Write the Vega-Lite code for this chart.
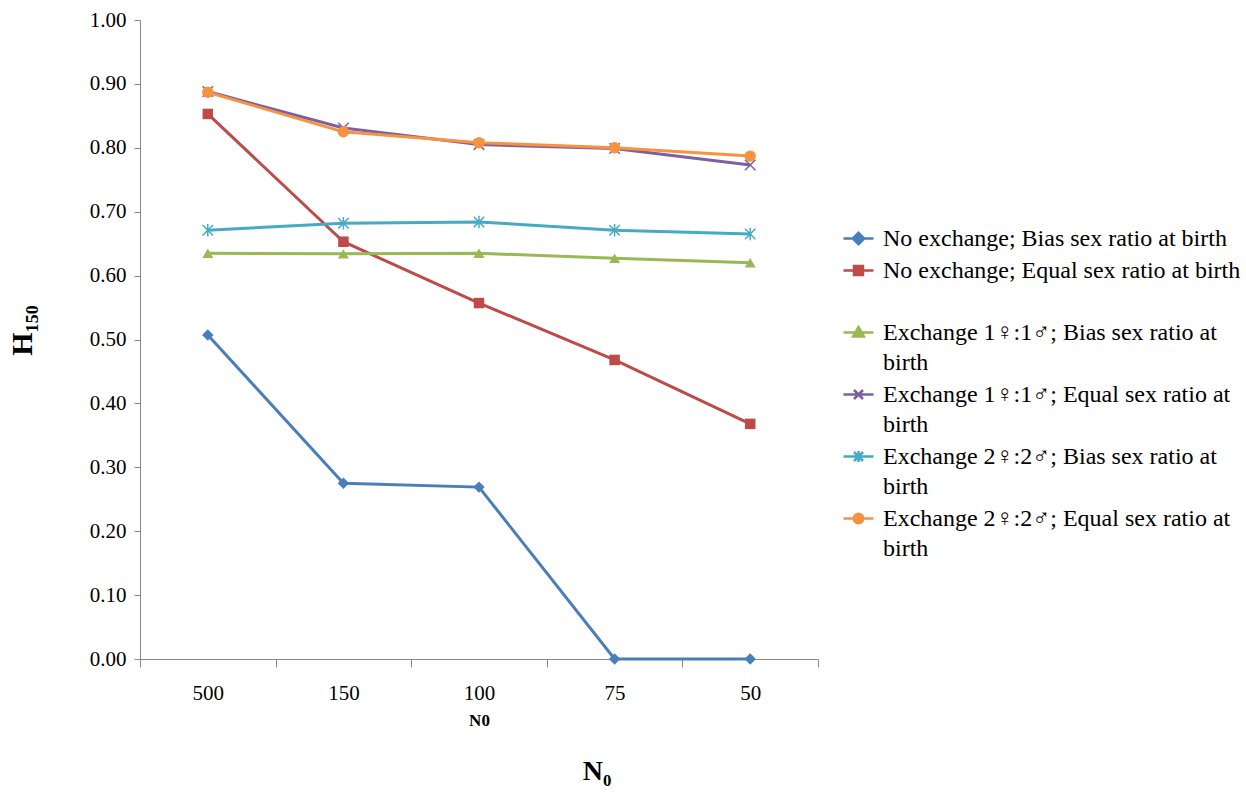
{
  "$schema": "https://vega.github.io/schema/vega-lite/v6.json",
  "width": 678,
  "height": 639,
  "autosize": "none",
  "padding": {"left": 140, "top": 20, "right": 428, "bottom": 137},
  "background": "white",
  "config": {"view": {"stroke": null}, "font": "Liberation Serif"},
  "title": {"text": "N₀", "orient": "bottom", "anchor": "middle", "frame": "group", "fontSize": 28, "fontWeight": "bold", "font": "Liberation Serif", "color": "black", "offset": 30, "dx": 118},
  "data": {"values": [
    {"N0": "500", "series": "No exchange; Bias sex ratio at birth", "H": 0.507},
    {"N0": "150", "series": "No exchange; Bias sex ratio at birth", "H": 0.275},
    {"N0": "100", "series": "No exchange; Bias sex ratio at birth", "H": 0.269},
    {"N0": "75", "series": "No exchange; Bias sex ratio at birth", "H": 0.0},
    {"N0": "50", "series": "No exchange; Bias sex ratio at birth", "H": 0.0},
    {"N0": "500", "series": "No exchange; Equal sex ratio at birth", "H": 0.853},
    {"N0": "150", "series": "No exchange; Equal sex ratio at birth", "H": 0.653},
    {"N0": "100", "series": "No exchange; Equal sex ratio at birth", "H": 0.557},
    {"N0": "75", "series": "No exchange; Equal sex ratio at birth", "H": 0.468},
    {"N0": "50", "series": "No exchange; Equal sex ratio at birth", "H": 0.368},
    {"N0": "500", "series": "Exchange 1♀:1♂; Bias sex ratio at birth", "H": 0.635},
    {"N0": "150", "series": "Exchange 1♀:1♂; Bias sex ratio at birth", "H": 0.634},
    {"N0": "100", "series": "Exchange 1♀:1♂; Bias sex ratio at birth", "H": 0.635},
    {"N0": "75", "series": "Exchange 1♀:1♂; Bias sex ratio at birth", "H": 0.627},
    {"N0": "50", "series": "Exchange 1♀:1♂; Bias sex ratio at birth", "H": 0.620},
    {"N0": "500", "series": "Exchange 1♀:1♂; Equal sex ratio at birth", "H": 0.888},
    {"N0": "150", "series": "Exchange 1♀:1♂; Equal sex ratio at birth", "H": 0.831},
    {"N0": "100", "series": "Exchange 1♀:1♂; Equal sex ratio at birth", "H": 0.805},
    {"N0": "75", "series": "Exchange 1♀:1♂; Equal sex ratio at birth", "H": 0.799},
    {"N0": "50", "series": "Exchange 1♀:1♂; Equal sex ratio at birth", "H": 0.773},
    {"N0": "500", "series": "Exchange 2♀:2♂; Bias sex ratio at birth", "H": 0.671},
    {"N0": "150", "series": "Exchange 2♀:2♂; Bias sex ratio at birth", "H": 0.682},
    {"N0": "100", "series": "Exchange 2♀:2♂; Bias sex ratio at birth", "H": 0.684},
    {"N0": "75", "series": "Exchange 2♀:2♂; Bias sex ratio at birth", "H": 0.671},
    {"N0": "50", "series": "Exchange 2♀:2♂; Bias sex ratio at birth", "H": 0.665},
    {"N0": "500", "series": "Exchange 2♀:2♂; Equal sex ratio at birth", "H": 0.887},
    {"N0": "150", "series": "Exchange 2♀:2♂; Equal sex ratio at birth", "H": 0.825},
    {"N0": "100", "series": "Exchange 2♀:2♂; Equal sex ratio at birth", "H": 0.808},
    {"N0": "75", "series": "Exchange 2♀:2♂; Equal sex ratio at birth", "H": 0.800},
    {"N0": "50", "series": "Exchange 2♀:2♂; Equal sex ratio at birth", "H": 0.787}
  ]},
  "encoding": {
    "x": {
      "field": "N0", "type": "nominal", "sort": ["500", "150", "100", "75", "50"],
      "scale": {"type": "band", "paddingInner": 0, "paddingOuter": 0},
      "axis": {
        "title": "N0", "titleFont": "Liberation Serif", "titleFontSize": 17, "titleFontWeight": "bold", "titleColor": "black", "titleY": 61, "titleBaseline": "middle",
        "labelFont": "Liberation Serif", "labelFontSize": 21, "labelColor": "black", "labelAngle": 0, "labelPadding": 15,
        "tickBand": "extent", "tickSize": 8, "tickColor": "#888888", "domainColor": "#888888", "grid": false
      }
    },
    "y": {
      "field": "H", "type": "quantitative", "scale": {"domain": [0, 1]},
      "axis": {
        "title": "H₁₅₀", "titleFont": "Liberation Serif", "titleFontSize": 30, "titleFontWeight": "bold", "titleColor": "black",
        "titleX": -118, "titleY": 310, "titleAngle": -90, "titleAlign": "center", "titleBaseline": "middle",
        "values": [0, 0.1, 0.2, 0.3, 0.4, 0.5, 0.6, 0.7, 0.8, 0.9, 1.0], "format": ".2f",
        "labelFont": "Liberation Serif", "labelFontSize": 21, "labelColor": "black", "labelPadding": 8,
        "tickSize": 6, "tickColor": "#888888", "domainColor": "#888888", "grid": false
      }
    }
  },
  "layer": [
    {
      "mark": {"type": "line", "strokeWidth": 3},
      "encoding": {
        "color": {"field": "series", "type": "nominal",
          "scale": {"domain": ["No exchange; Bias sex ratio at birth", "No exchange; Equal sex ratio at birth", "Exchange 1♀:1♂; Bias sex ratio at birth", "Exchange 1♀:1♂; Equal sex ratio at birth", "Exchange 2♀:2♂; Bias sex ratio at birth", "Exchange 2♀:2♂; Equal sex ratio at birth"],
                    "range": ["#4A7EBB", "#BE4B48", "#98B954", "#7D60A0", "#46AAC5", "#F69240"]},
          "legend": {
            "title": null, "orient": "none", "legendX": 702, "legendY": 202,
            "symbolSize": 900, "symbolStrokeWidth": 2.5, "labelOffset": 8,
            "labelFontSize": 24, "labelColor": "black", "labelFont": "Liberation Serif", "labelLimit": 500,
            "rowPadding": 3,
            "labelExpr": "indexof(datum.label, 'Exchange') == 0 ? [slice(datum.label, 0, lastindexof(datum.label, ' ')), 'birth'] : (indexof(datum.label, 'Equal') >= 0 ? [datum.label, ''] : datum.label)",
            "encode": {
              "symbols": {"update": {
                "shape": {"signal": "{'No exchange; Bias sex ratio at birth': 'M-1,0L1,0M0,-0.38L0.38,0L0,0.38L-0.38,0Z', 'No exchange; Equal sex ratio at birth': 'M-1,0L1,0M-0.3,-0.3L0.3,-0.3L0.3,0.3L-0.3,0.3Z', 'Exchange 1♀:1♂; Bias sex ratio at birth': 'M-1,0L1,0M0,-0.36L0.36,0.26L-0.36,0.26Z', 'Exchange 1♀:1♂; Equal sex ratio at birth': 'M-1,0L1,0M-0.3,-0.3L0.3,0.3M-0.3,0.3L0.3,-0.3', 'Exchange 2♀:2♂; Bias sex ratio at birth': 'M-1,0L1,0M-0.3,-0.3L0.3,0.3M-0.3,0.3L0.3,-0.3M0,-0.36L0,0.36', 'Exchange 2♀:2♂; Equal sex ratio at birth': 'M-1,0L1,0M-0.32,0A0.32,0.32 0 1,0 0.32,0A0.32,0.32 0 1,0 -0.32,0Z'}[datum.value]"},
                "size": {"value": 900},
                "fill": {"scale": "color", "field": "value"},
                "stroke": {"scale": "color", "field": "value"},
                "strokeWidth": {"value": 2.5},
                "opacity": {"value": 1}
              }},
              "labels": {"update": {"lineHeight": {"value": 30}}}
            }
          }
        }
      }
    },
    {
      "transform": [{"filter": "datum.series == 'No exchange; Bias sex ratio at birth'"}],
      "mark": {"type": "point", "shape": "diamond", "filled": true, "opacity": 1, "size": 130, "color": "#4A7EBB"}
    },
    {
      "transform": [{"filter": "datum.series == 'No exchange; Equal sex ratio at birth'"}],
      "mark": {"type": "point", "shape": "square", "filled": true, "opacity": 1, "size": 110, "color": "#BE4B48"}
    },
    {
      "transform": [{"filter": "datum.series == 'Exchange 1♀:1♂; Bias sex ratio at birth'"}],
      "mark": {"type": "point", "shape": "triangle-up", "filled": true, "opacity": 1, "size": 120, "color": "#98B954"}
    },
    {
      "transform": [{"filter": "datum.series == 'Exchange 1♀:1♂; Equal sex ratio at birth'"}],
      "mark": {"type": "point", "shape": "M-1,-1L1,1M-1,1L1,-1", "filled": false, "opacity": 1, "size": 110, "strokeWidth": 1.5, "color": "#7D60A0"}
    },
    {
      "transform": [{"filter": "datum.series == 'Exchange 2♀:2♂; Bias sex ratio at birth'"}],
      "mark": {"type": "point", "shape": "M-1,-1L1,1M-1,1L1,-1M0,-1.2L0,1.2", "filled": false, "opacity": 1, "size": 110, "strokeWidth": 1.5, "color": "#46AAC5"}
    },
    {
      "transform": [{"filter": "datum.series == 'Exchange 2♀:2♂; Equal sex ratio at birth'"}],
      "mark": {"type": "point", "shape": "circle", "filled": true, "opacity": 1, "size": 130, "color": "#F69240"}
    }
  ]
}
